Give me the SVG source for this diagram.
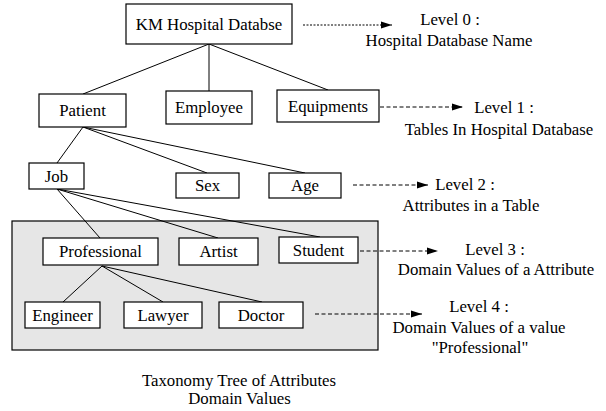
<svg xmlns="http://www.w3.org/2000/svg" width="606" height="411" viewBox="0 0 606 411">
<style>
text{font-family:"Liberation Serif","Times New Roman",serif;font-size:16.8px;fill:#000;text-anchor:middle}
.box{fill:#fff;stroke:#000;stroke-width:1.2}
.edge{stroke:#000;stroke-width:1;fill:none}
.dash{stroke:#000;stroke-width:1;fill:none;stroke-dasharray:4,2.5}
.dot{stroke:#000;stroke-width:1;fill:none;stroke-dasharray:2,1.5}
</style>
<defs>
<marker id="ah" markerWidth="12" markerHeight="8" refX="11" refY="4" orient="auto" markerUnits="userSpaceOnUse">
<path d="M0,0.5 L11,4 L0,7.5 Z" fill="#000"/>
</marker>
</defs>
<rect id="panel" x="12" y="221" width="366" height="129" fill="#e6e6e6" stroke="#000" stroke-width="1.2"/>
<g id="connectors">
<line class="edge" x1="209" y1="44" x2="83" y2="94"/>
<line class="edge" x1="209" y1="44" x2="209" y2="91"/>
<line class="edge" x1="209" y1="44" x2="328" y2="90"/>
<line class="edge" x1="83" y1="127" x2="57" y2="163"/>
<line class="edge" x1="83" y1="127" x2="207" y2="173"/>
<line class="edge" x1="83" y1="127" x2="305" y2="173"/>
<line class="edge" x1="57" y1="189" x2="100" y2="238"/>
<line class="edge" x1="57" y1="189" x2="218" y2="238"/>
<line class="edge" x1="57" y1="189" x2="320" y2="237"/>
<line class="edge" x1="102" y1="266" x2="63" y2="302"/>
<line class="edge" x1="102" y1="266" x2="163" y2="302"/>
<line class="edge" x1="102" y1="266" x2="262" y2="302"/>
<line class="dot" x1="303" y1="25" x2="392" y2="25" marker-end="url(#ah)"/>
<line class="dash" x1="380" y1="107" x2="463" y2="107" marker-end="url(#ah)"/>
<line class="dash" x1="353" y1="185" x2="428" y2="185" marker-end="url(#ah)"/>
<line class="dash" x1="360" y1="251" x2="438" y2="251" marker-end="url(#ah)"/>
<line class="dash" x1="315" y1="314" x2="422" y2="314" marker-end="url(#ah)"/>
</g>
<g id="n-root"><rect class="box" x="126" y="4" width="166" height="40"/><text x="209" y="30">KM Hospital Databse</text></g>
<g id="n-patient"><rect class="box" x="39" y="94" width="87" height="33"/><text x="82.5" y="116">Patient</text></g>
<g id="n-employee"><rect class="box" x="166" y="91" width="86" height="33"/><text x="209" y="113">Employee</text></g>
<g id="n-equipments"><rect class="box" x="277" y="90" width="102" height="32"/><text x="328" y="112">Equipments</text></g>
<g id="n-job"><rect class="box" x="29" y="163" width="55" height="26"/><text x="56.5" y="182">Job</text></g>
<g id="n-sex"><rect class="box" x="176" y="173" width="63" height="25"/><text x="207.5" y="191">Sex</text></g>
<g id="n-age"><rect class="box" x="269" y="173" width="72" height="25"/><text x="305" y="191">Age</text></g>
<g id="n-professional"><rect class="box" x="43" y="238" width="115" height="27"/><text x="100.5" y="257">Professional</text></g>
<g id="n-artist"><rect class="box" x="179" y="238" width="79" height="27"/><text x="218.5" y="257">Artist</text></g>
<g id="n-student"><rect class="box" x="279" y="237" width="79" height="26"/><text x="318.5" y="256">Student</text></g>
<g id="n-engineer"><rect class="box" x="25" y="302" width="75" height="26"/><text x="62.5" y="321">Engineer</text></g>
<g id="n-lawyer"><rect class="box" x="124" y="302" width="78" height="26"/><text x="163" y="321">Lawyer</text></g>
<g id="n-doctor"><rect class="box" x="219" y="302" width="84" height="26"/><text x="261" y="321">Doctor</text></g>
<g id="labels">
<text x="450" y="25">Level 0 :</text>
<text x="449" y="46">Hospital Database Name</text>
<text x="504" y="113">Level 1 :</text>
<text x="499" y="135">Tables In Hospital Database</text>
<text x="465" y="190">Level 2 :</text>
<text x="471" y="211">Attributes in a Table</text>
<text x="495" y="255">Level 3 :</text>
<text x="496" y="275">Domain Values of a Attribute</text>
<text x="479" y="312">Level 4 :</text>
<text x="479" y="333">Domain Values of a value</text>
<text x="480" y="353">"Professional"</text>
<text x="239" y="386">Taxonomy Tree of Attributes</text>
<text x="239.5" y="404">Domain Values</text>
</g>
</svg>
